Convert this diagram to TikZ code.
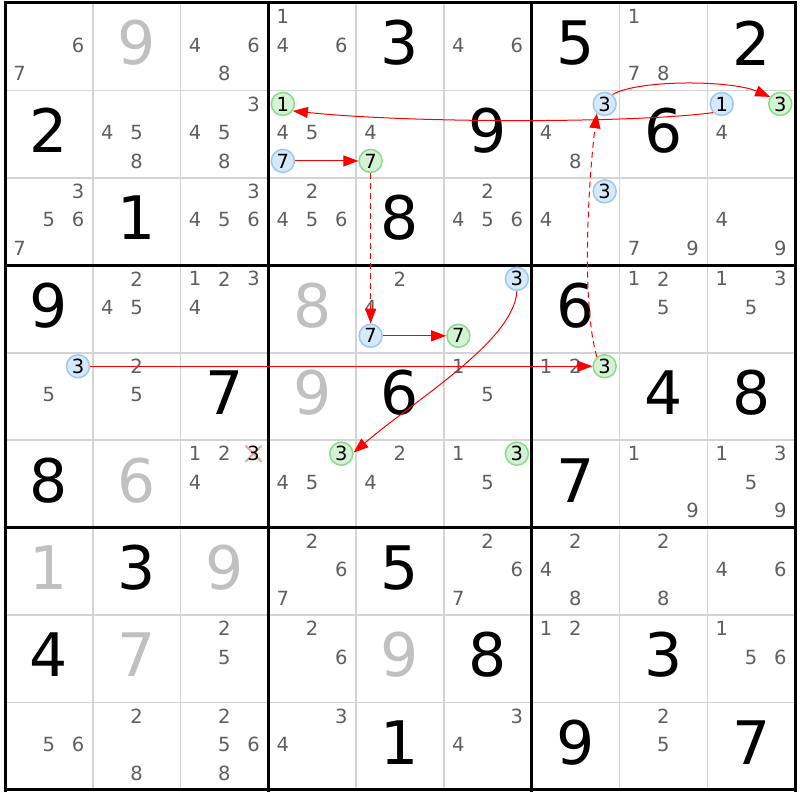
\documentclass[tikz,border=0pt]{standalone}
\usepackage{fontspec}
\setmainfont{DejaVu Sans}
\usetikzlibrary{arrows.meta,calc}
\definecolor{candgray}{HTML}{5F5F5F}
\definecolor{givgray}{HTML}{C0C0C0}
\definecolor{thingrid}{HTML}{D4D4D4}
\definecolor{bluefill}{HTML}{D6E9FB}
\definecolor{bluedraw}{HTML}{9CC8F2}
\definecolor{greenfill}{HTML}{D4F2D4}
\definecolor{greendraw}{HTML}{8CD98C}
\definecolor{xpink}{HTML}{F3A3A8}
\tikzset{
  cand/.style={inner sep=0pt, text=candgray, font=\fontsize{19.5pt}{19.5pt}\selectfont},
  bigdigit/.style={inner sep=0pt, font=\fontsize{60pt}{60pt}\selectfont},
  ccirc/.style={circle, line width=1.5pt, minimum size=23pt, inner sep=0pt, text=black, font=\fontsize{19.5pt}{19.5pt}\selectfont},
  thinline/.style={thingrid, line width=1.5pt},
  thickline/.style={black, line width=3pt},
  arr/.style={red, line width=1pt, -{Triangle[length=15pt,width=11pt]}},
  dashedarr/.style={arr, dash pattern=on 6pt off 4pt},
  xmark/.style={xpink, line width=2pt}
}
\begin{document}
\begin{tikzpicture}[x=1pt,y=-1pt]
\useasboundingbox (0,0) rectangle (800,800);
\fill[white] (0,0) rectangle (800,800);
% thin grid lines
\foreach \i in {1,2,4,5,7,8} {
  \pgfmathsetmacro\gx{5+87.78*\i}
  \pgfmathsetmacro\gy{3+87.44*\i}
  \draw[thinline] (\gx,3) -- (\gx,790);
  \draw[thinline] (5,\gy) -- (795,\gy);
}
\foreach \i in {0,3,6,9} {
  \pgfmathsetmacro\gx{5+87.78*\i}
  \pgfmathsetmacro\gy{3+87.44*\i}
  \draw[thickline] (\gx,1.5) -- (\gx,791.5);
  \draw[thickline] (3.5,\gy) -- (796.5,\gy);
}
% given digits
\foreach \r/\c/\d/\col in {1/2/9/givgray, 1/5/3/black, 1/7/5/black, 1/9/2/black,
  2/1/2/black, 2/6/9/black, 2/8/6/black,
  3/2/1/black, 3/5/8/black,
  4/1/9/black, 4/4/8/givgray, 4/7/6/black,
  5/3/7/black, 5/4/9/givgray, 5/5/6/black, 5/8/4/black, 5/9/8/black,
  6/1/8/black, 6/2/6/givgray, 6/7/7/black,
  7/1/1/givgray, 7/2/3/black, 7/3/9/givgray, 7/5/5/black,
  8/1/4/black, 8/2/7/givgray, 8/5/9/givgray, 8/6/8/black, 8/8/3/black,
  9/5/1/black, 9/7/9/black, 9/9/7/black} {
  \pgfmathsetmacro\px{5+87.78*(\c-1)+43.89}
  \pgfmathsetmacro\py{3+87.44*(\r-1)+40}
  \node[bigdigit, text=\col] (v-\r-\c) at (\px,\py) {\d};
}
% candidates
\foreach \r/\c/\L in {1/1/{6,7}, 1/3/{4,6,8}, 1/4/{1,4,6}, 1/6/{4,6}, 1/8/{1,7,8},
  2/2/{4,5,8}, 2/3/{3,4,5,8}, 2/4/{4,5}, 2/5/{4}, 2/7/{4,8}, 2/9/{4},
  3/1/{3,5,6,7}, 3/3/{3,4,5,6}, 3/4/{2,4,5,6}, 3/6/{2,4,5,6}, 3/7/{4}, 3/8/{7,9}, 3/9/{4,9},
  4/2/{2,4,5}, 4/3/{1,2,3,4}, 4/5/{2,4}, 4/8/{1,2,5}, 4/9/{1,3,5},
  5/1/{5}, 5/2/{2,5}, 5/6/{1,5}, 5/7/{1,2},
  6/3/{1,2,4}, 6/4/{4,5}, 6/5/{2,4}, 6/6/{1,5}, 6/8/{1,9}, 6/9/{1,3,5,9},
  7/4/{2,6,7}, 7/6/{2,6,7}, 7/7/{2,4,8}, 7/8/{2,8}, 7/9/{4,6},
  8/3/{2,5}, 8/4/{2,6}, 8/7/{1,2}, 8/9/{1,5,6},
  9/1/{5,6}, 9/2/{2,8}, 9/3/{2,5,6,8}, 9/4/{3,4}, 9/6/{3,4}, 9/8/{2,5}} {
  \foreach \n in \L {
    \pgfmathsetmacro\px{5+87.78*(\c-1)+14.5+29.25*mod(\n-1,3)}
    \pgfmathsetmacro\py{3+87.44*(\r-1)+13.5+28.5*floor((\n-1)/3)}
    \node[cand] (k-\r-\c-\n) at (\px,\py) {\n};
  }
}
% eliminated candidate
\pgfmathsetmacro\px{5+87.78*2+73}
\pgfmathsetmacro\py{3+87.44*5+13.5}
\draw[xmark] ($(\px,\py)+(-8,-8)$) -- ($(\px,\py)+(8,8)$);
\draw[xmark] ($(\px,\py)+(-8,8)$) -- ($(\px,\py)+(8,-8)$);
\node[cand, text=black] (k-6-3-3) at (\px,\py) {3};
% circled candidates
\foreach \r/\c/\n/\dc/\fc in {2/4/1/greendraw/greenfill, 2/4/7/bluedraw/bluefill,
  2/5/7/greendraw/greenfill, 2/7/3/bluedraw/bluefill, 2/9/1/bluedraw/bluefill,
  2/9/3/greendraw/greenfill, 3/7/3/bluedraw/bluefill, 4/5/7/bluedraw/bluefill,
  4/6/3/bluedraw/bluefill, 4/6/7/greendraw/greenfill, 5/1/3/bluedraw/bluefill,
  5/7/3/greendraw/greenfill, 6/4/3/greendraw/greenfill, 6/6/3/greendraw/greenfill} {
  \pgfmathsetmacro\px{5+87.78*(\c-1)+14.5+29.25*mod(\n-1,3)}
  \pgfmathsetmacro\py{3+87.44*(\r-1)+13.5+28.5*floor((\n-1)/3)}
  \node[ccirc, draw=\dc, fill=\fc] (o-\r-\c-\n) at (\px,\py) {\n};
}
% chain arrows
\draw[arr] (o-2-4-7) -- (o-2-5-7);
\draw[dashedarr] (o-2-5-7) -- (o-4-5-7);
\draw[arr] (o-4-5-7) -- (o-4-6-7);
\draw[arr] (o-5-1-3) -- (o-5-7-3);
\draw[dashedarr] (o-5-7-3.130) .. controls +(-16,-56) and +(-8,64) .. (o-2-7-3.230);
\draw[arr] (o-2-9-1.225) .. controls +(-72,10) and +(127,13) .. (o-2-4-1.-35);
\draw[arr] (o-2-7-3.50) .. controls +(25,-15) and +(-40,-17) .. (o-2-9-3.145);
\draw[arr] (o-4-6-3.south) .. controls +(-3,50) and +(63,-54) .. (o-6-4-3.5);
\end{tikzpicture}
\end{document}
